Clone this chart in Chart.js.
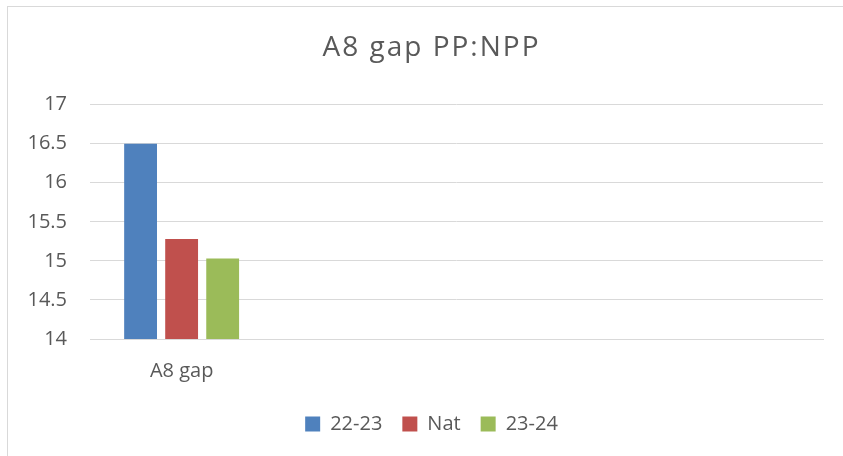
<!DOCTYPE html>
<html><head><meta charset="utf-8">
<script src="https://cdn.jsdelivr.net/npm/chart.js@4/dist/chart.umd.min.js"></script>
<style>
html,body{margin:0;padding:0;background:#fff;overflow:hidden}
#wrap{position:absolute;left:0;top:0;width:843px;height:456px}
#frame{position:absolute;left:7px;top:6px;width:900px;height:500px;border-left:1px solid #d9d9d9;border-top:1px solid #d9d9d9;pointer-events:none}
</style></head><body>
<div id="wrap"><canvas id="c" width="843" height="456"></canvas><div id="frame"></div></div>
<script>
const categories = ['A8 gap', '', '', ''];
const seriesNames = ['22-23', 'Nat', '23-24'];
const s2223 = [16.5, null, null, null];
const sNat = [15.28, null, null, null];
const s2324 = [15.03, null, null, null];
const colors = ['#4f81bd', '#c0504d', '#9bbb59'];
const titleText = 'A8 gap PP:NPP';
const yMin = 14, yMax = 17, yStep = 0.5;

const FONT = '"Open Sans", Lato, sans-serif';
const TXT = '#595959';
const GRID = '#d9d9d9';
const PAD_LEFT = 20;
const CENTER_SHIFT = 10;

const shiftPlugin = {
  id: 'centerShift',
  afterLayout(chart) {
    for (const b of [chart.titleBlock, chart.legend]) {
      if (b) { b.left += CENTER_SHIFT; b.right += CENTER_SHIFT; }
    }
  }
};

const chart = new Chart(document.getElementById('c'), {
  type: 'bar',
  data: {
    labels: categories,
    datasets: [s2223, sNat, s2324].map((d, i) => ({
      label: seriesNames[i],
      data: d,
      backgroundColor: colors[i],
      borderWidth: 0,
      categoryPercentage: 0.672,
      barPercentage: 0.8
    }))
  },
  plugins: [shiftPlugin],
  options: {
    responsive: false,
    devicePixelRatio: 1,
    animation: false,
    layout: { padding: { left: PAD_LEFT, right: 20, top: 0, bottom: 12 } },
    plugins: {
      tooltip: { enabled: false },
      title: {
        display: true, text: titleText, color: TXT,
        font: { family: FONT, size: 28, weight: 'normal' },
        padding: { top: 31, bottom: 40 }
      },
      legend: {
        position: 'bottom',
        labels: {
          color: TXT, boxWidth: 15, boxHeight: 15, padding: 20,
          font: { family: FONT, size: 20 }
        }
      }
    },
    scales: {
      x: {
        afterFit: s => { s.height = 55; },
        grid: { display: false, drawTicks: false },
        border: { color: GRID, width: 1 },
        ticks: { color: TXT, font: { family: FONT, size: 20 }, padding: 20, maxRotation: 0, autoSkip: false }
      },
      y: {
        min: yMin, max: yMax,
        afterFit: s => { s.width = 90 - PAD_LEFT; },
        grid: { color: GRID, lineWidth: 1, drawTicks: false },
        border: { display: false },
        ticks: {
          stepSize: yStep, color: TXT, font: { family: FONT, size: 20 }, padding: 23,
          callback: v => String(+(+v).toFixed(1))
        }
      }
    }
  }
});
// widen the title slightly, as in the reference
const tb = chart.titleBlock;
const origDraw = tb.draw.bind(tb);
tb.draw = function () {
  const c = this.ctx;
  const prev = c.letterSpacing;
  c.letterSpacing = '2px';
  origDraw();
  c.letterSpacing = prev || '0px';
};
chart.draw();
</script>
</body></html>
